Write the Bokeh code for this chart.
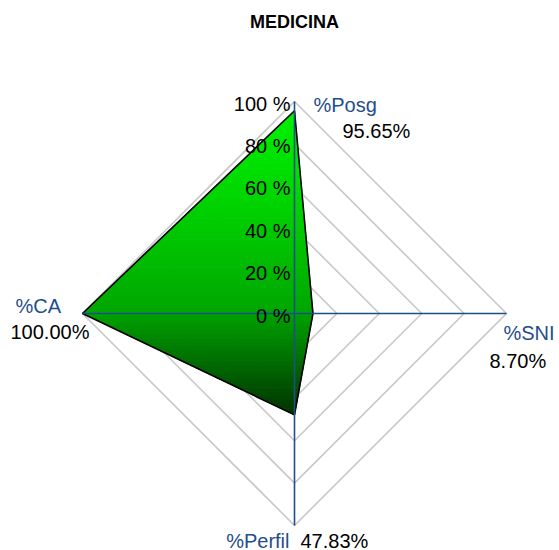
import numpy as np
from bokeh.plotting import figure
from bokeh.models import Label, Range1d
from bokeh.core.properties import value
from bokeh.embed import file_html
from bokeh.resources import INLINE

# ---- data ----
title_text = "MEDICINA"
categories = ["%Posg", "%SNI", "%Perfil", "%CA"]
values = [95.65, 8.70, 47.83, 100.00]
angles_deg = [90, 0, -90, 180]          # axis directions (top, right, bottom, left)
tick_levels = [0, 20, 40, 60, 80, 100]
tick_labels = ["0 %", "20 %", "40 %", "60 %", "80 %", "100 %"]
value_labels = ["95.65%", "8.70%", "47.83%", "100.00%"]

# ---- layout ----
W, H = 559, 550
cx_px, cy_px = 294, 313      # centre in figure pixels (from top-left)
R_px = 212.0                 # pixels for 100 %
s = R_px / 100.0

p = figure(width=W, height=H, output_backend="svg", toolbar_location=None,
           x_range=Range1d(-cx_px / s, (W - cx_px) / s),
           y_range=Range1d(-(H - cy_px) / s, cy_px / s),
           min_border=0, border_fill_color="white", background_fill_color="white")
p.axis.visible = False
p.grid.visible = False
p.outline_line_color = None

ang = np.deg2rad(angles_deg)
ux = np.round(np.cos(ang), 12)
uy = np.round(np.sin(ang), 12)

FONT = "Liberation Sans"
BLUE = "#1f4e8c"

# grid diamonds
for lev in tick_levels[1:]:
    xs = list(ux * lev) + [ux[0] * lev]
    ys = list(uy * lev) + [uy[0] * lev]
    p.line(xs, ys, line_color="#c8c8c8", line_width=1.6)

# gradient filled polygon via horizontal bands
px = ux * np.array(values)
py = uy * np.array(values)
poly = list(zip(px, py))

def clip(polygon, y0, keep_above):
    out = []
    n = len(polygon)
    for i in range(n):
        a = polygon[i]; b = polygon[(i + 1) % n]
        ina = a[1] >= y0 if keep_above else a[1] <= y0
        inb = b[1] >= y0 if keep_above else b[1] <= y0
        if ina:
            out.append(a)
        if ina != inb:
            t = (y0 - a[1]) / (b[1] - a[1])
            out.append((a[0] + t * (b[0] - a[0]), y0))
    return out

stops_t = [0.0, 0.3, 0.65, 1.0]
stops_g = [242, 212, 168, 50]
ymax, ymin = py.max(), py.min()
N = 90
edges = np.linspace(ymax, ymin, N + 1)
bx, by, bc = [], [], []
for i in range(N):
    top, bot = edges[i], edges[i + 1]
    c = clip(clip(poly, bot, True), top, False)
    if len(c) < 3:
        continue
    t = (i + 0.5) / N
    g = int(round(np.interp(t, stops_t, stops_g)))
    bx.append([q[0] for q in c]); by.append([q[1] for q in c])
    bc.append("#%02x%02x%02x" % (0, g, 0))
p.patches(bx, by, fill_color=bc, line_color=bc, line_width=1)
p.patch(list(px), list(py), fill_color=None, line_color="black", line_width=1.6)

# axis lines
for i in range(len(categories)):
    p.line([0, ux[i] * 100], [0, uy[i] * 100], line_color=BLUE, line_width=1.6)

# tick labels along the vertical axis
p.text(x=[0] * len(tick_levels), y=tick_levels, text=tick_labels,
       x_offset=-4, y_offset=2, text_align="right", text_baseline="middle",
       text_font=value(FONT), text_font_size="20px", text_color="black")

# category & value labels (offsets in px from axis end)
name_off = [(19, 3, "left"), (-3, 19, "left"), (-5, 15, "right"), (-67, -8, "left")]
val_off = [(48, 29, "left"), (-17, 47, "left"), (6, 15, "left"), (-72, 18, "left")]
for i in range(len(categories)):
    ex, ey = ux[i] * 100, uy[i] * 100
    dx, dy, al = name_off[i]
    p.text(x=[ex], y=[ey], text=[categories[i]], x_offset=dx, y_offset=dy,
           text_align=al, text_baseline="middle", text_font=value(FONT),
           text_font_size="20px", text_color=BLUE)
    dx, dy, al = val_off[i]
    p.text(x=[ex], y=[ey], text=[value_labels[i]], x_offset=dx, y_offset=dy,
           text_align=al, text_baseline="middle", text_font=value(FONT),
           text_font_size="20px", text_color="black")

p.add_layout(Label(x=cx_px, y=H - 21, x_units="screen", y_units="screen",
                   text=title_text, text_align="center", text_baseline="middle",
                   text_font=FONT, text_font_size="18px", text_font_style="bold",
                   text_color="black"))

open("out.html", "w").write(file_html(p, INLINE))
